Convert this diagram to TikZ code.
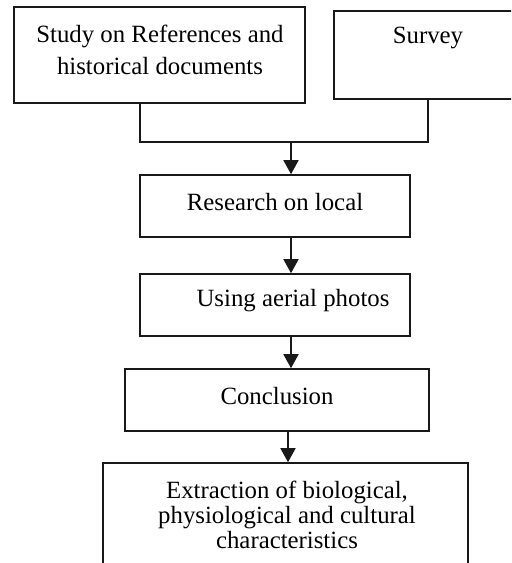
\documentclass[tikz,border=0pt]{standalone}
\usepackage{fontspec}
\setmainfont{Liberation Serif}
\usetikzlibrary{arrows.meta}
\begin{document}
\begin{tikzpicture}[x=0.5pt,y=-0.5pt,
  box/.style={draw=black!90,line width=0.8pt,rectangle,inner sep=0pt},
  txt/.style={inner sep=0pt,align=center,font=\fontsize{12.4}{12.6}\selectfont},
  line/.style={draw=black!90,line width=0.8pt},
  arr/.style={line,-{Triangle[length=7pt,width=7.5pt]}}]
\useasboundingbox (0,0) rectangle (511,563);
\clip (0,0) rectangle (511,563);
\node[box,minimum width=145.5pt,minimum height=48pt] (study) at (159.5,55) {};
\node[txt,font=\fontsize{12.4}{16}\selectfont] (tstudy) at (160,50) {Study on References and\\historical documents};
\node[box,minimum width=98pt,minimum height=44pt] (survey) at (432,55) {};
\node[txt] (tsurvey) at (428,38) {Survey};
\node[box,minimum width=135pt,minimum height=31pt] (research) at (275,206) {};
\node[txt] (tresearch) at (275,202) {Research on local};
\node[box,minimum width=135pt,minimum height=31pt] (using) at (275,305) {};
\node[txt] (tusing) at (293,301) {Using aerial photos};
\node[box,minimum width=152pt,minimum height=31pt] (concl) at (277,400) {};
\node[txt] (tconcl) at (277,396) {Conclusion};
\node[box,minimum width=182.5pt,minimum height=68.5pt] (final) at (285.5,531.5) {};
\node[txt] (tfinal) at (287,515) {Extraction of biological,\\physiological and cultural\\characteristics};
\coordinate (sx) at (140,0);
\coordinate (vx) at (428,0);
\coordinate (jy) at (0,142);
\coordinate (ax) at (291,0);
\coordinate (bx) at (288,0);
\draw[line] (study.south -| sx) -- (sx |- jy) -- (vx |- jy) -- (survey.south -| vx);
\draw[arr] (ax |- jy) -- (research.north -| ax);
\draw[arr] (research.south -| ax) -- (using.north -| ax);
\draw[arr] (using.south -| ax) -- (concl.north -| ax);
\draw[arr] (concl.south -| bx) -- (final.north -| bx);
\end{tikzpicture}
\end{document}
